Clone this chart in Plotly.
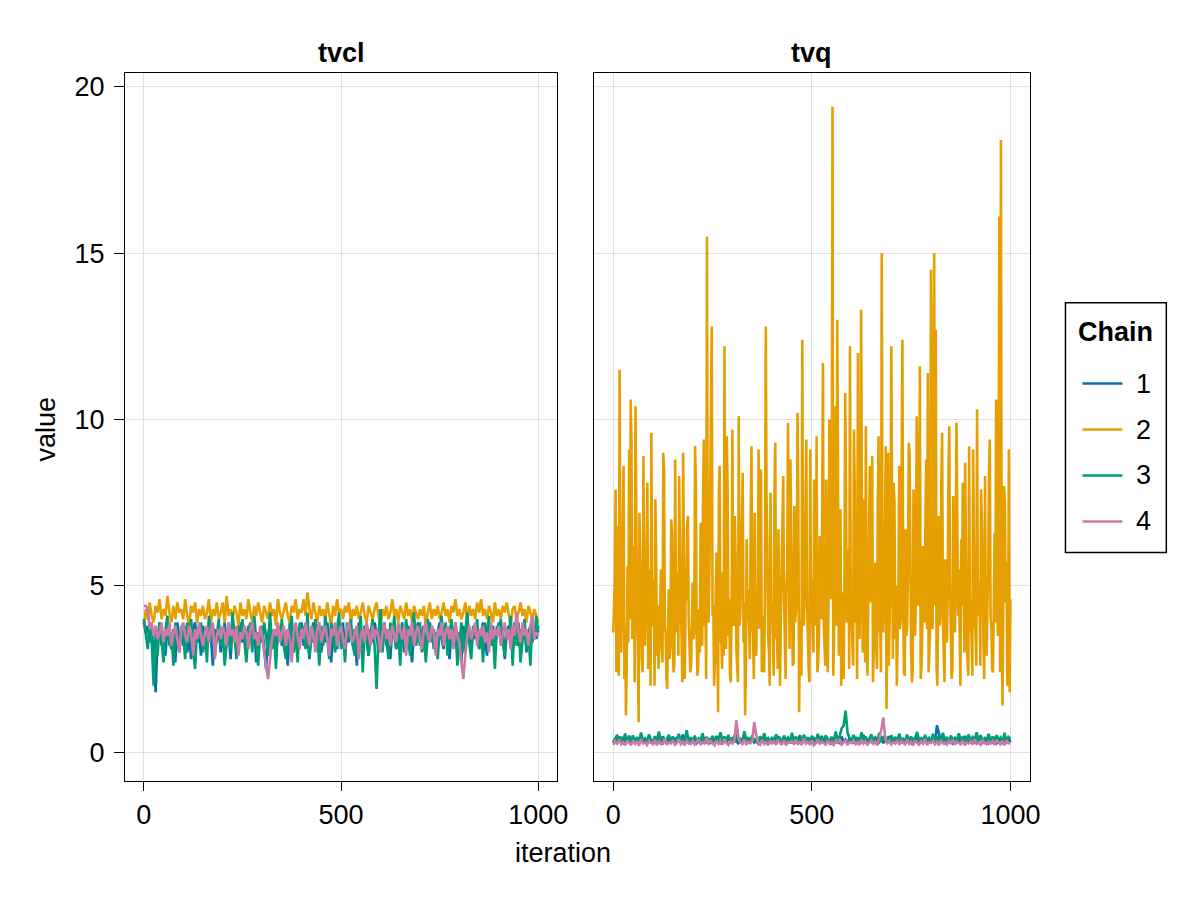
import plotly.graph_objects as go

# ---------------- data ----------------
iter_step5 = list(range(0, 1001, 5))
iter_step2 = list(range(0, 1001, 2))

tvcl_chain1 = [3.9,3.6,3.8,3.3,3.7,3.0,1.8,3.4,3.9,3.2,
 3.6,2.9,3.8,3.5,3.1,3.7,2.7,3.9,3.4,3.6,
 3.2,3.8,3.0,3.5,2.8,3.7,3.9,3.3,3.6,2.9,
 3.8,3.4,3.1,3.9,3.5,2.6,3.7,3.3,3.8,3.0,
 3.5,3.9,3.2,3.6,2.8,3.8,3.4,3.7,3.1,3.9,
 3.3,3.6,2.9,3.8,3.5,3.2,3.9,2.7,3.6,3.4,
 3.8,3.1,2.5,3.5,3.9,3.3,3.7,2.9,3.6,3.8,
 3.2,3.7,3.4,2.6,3.9,3.5,3.0,3.8,3.3,3.6,
 3.9,3.2,3.7,3.4,2.8,3.6,3.9,3.1,3.5,3.8,
 3.0,3.6,3.3,3.9,3.5,2.7,3.8,3.4,3.1,3.7,
 3.5,3.9,2.9,3.6,3.3,3.8,3.2,3.7,2.6,3.9,
 3.4,3.1,3.8,3.5,2.9,3.7,3.3,3.9,3.6,3.0,
 3.7,3.4,3.9,3.2,3.6,2.8,3.8,3.5,3.1,3.7,
 3.3,3.9,3.0,3.6,3.8,3.4,2.7,3.7,3.5,3.9,
 3.2,3.6,3.8,2.9,3.5,3.9,3.3,3.7,3.0,3.6,
 3.9,3.4,3.1,3.8,3.6,2.8,3.7,3.5,3.9,3.2,
 3.6,2.7,3.8,3.3,3.9,3.5,3.0,3.7,3.4,3.8,
 3.1,3.6,3.9,3.4,2.9,3.7,3.5,3.8,3.2,3.6,
 3.9,3.3,3.7,2.8,3.6,3.8,3.4,3.1,3.9,3.5,
 3.2,3.7,3.5,3.9,3.0,3.6,3.8,3.3,3.7,3.4,
 3.8]

tvcl_chain2 = [3.8,4.3,4.0,4.5,4.1,3.9,4.4,4.2,4.6,4.0,
 4.3,4.1,4.7,4.2,3.9,4.4,4.0,4.5,4.2,4.3,
 4.0,4.6,4.1,3.8,4.4,4.2,4.5,3.9,4.3,4.1,
 4.4,4.0,4.2,4.6,3.9,4.3,4.1,4.5,4.0,4.2,
 4.5,3.9,4.7,4.1,4.3,4.0,4.4,4.2,3.8,4.5,
 4.1,4.3,4.0,4.6,4.2,3.9,4.4,4.1,4.5,4.2,
 3.9,4.4,4.2,4.0,4.5,4.1,4.3,3.8,4.6,4.2,
 4.0,4.3,4.5,4.1,3.9,4.4,4.2,4.6,4.0,4.3,
 4.2,4.6,4.1,4.8,4.3,4.0,4.5,4.2,3.9,4.4,
 4.1,4.3,4.0,4.5,4.2,3.8,4.4,4.1,4.6,4.2,
 4.3,4.0,4.4,4.2,4.5,3.9,4.3,4.1,4.4,4.0,
 4.2,4.5,4.1,3.9,4.4,4.2,4.0,4.3,4.5,4.1,
 3.8,4.3,4.1,4.4,4.0,4.2,4.6,4.1,4.3,3.9,
 4.4,4.2,4.0,4.5,4.1,4.3,3.9,4.4,4.2,4.0,
 4.3,4.1,4.4,3.8,4.2,4.5,4.0,4.3,4.1,4.4,
 4.0,4.2,4.5,4.1,4.3,3.9,4.4,4.2,4.6,4.1,
 4.3,4.0,4.2,4.5,3.9,4.4,4.1,4.3,4.0,4.5,
 4.2,4.6,4.1,4.3,4.0,4.4,4.2,3.9,4.5,4.1,
 4.3,4.0,4.4,4.2,4.5,4.1,3.8,4.3,4.4,4.0,
 4.2,4.5,4.1,4.3,3.9,4.4,4.2,4.0,4.3,4.1,
 3.9]

tvcl_chain3 = [4.0,3.5,3.1,3.8,3.3,2.0,3.6,2.9,3.9,3.4,
 2.7,3.7,4.1,3.2,3.6,2.6,3.9,3.4,3.0,3.8,
 3.5,2.8,3.9,3.3,4.0,3.1,2.5,3.7,3.4,3.9,
 3.0,3.6,2.7,4.1,3.3,3.8,2.9,3.5,4.0,3.2,
 3.7,2.6,3.4,3.9,3.1,4.2,3.5,2.8,3.8,3.3,
 4.0,3.2,2.7,3.6,3.9,3.0,4.1,3.4,2.6,3.7,
 3.3,3.9,3.5,2.9,4.2,3.1,3.6,2.5,3.8,3.4,
 4.0,3.2,2.8,3.7,3.5,4.1,3.0,3.6,2.7,3.9,
 3.4,3.8,3.1,4.2,2.9,3.6,3.3,4.0,3.5,2.6,
 3.8,3.2,4.1,3.5,2.8,3.9,3.4,3.0,3.7,4.2,
 3.1,3.6,2.7,3.9,3.4,4.0,3.2,2.9,3.7,3.5,
 4.1,2.4,3.8,3.3,2.9,3.6,4.0,3.2,1.9,3.5,
 4.3,3.0,3.7,3.4,2.8,3.9,3.5,4.1,3.1,3.6,
 2.6,3.8,3.3,4.0,3.5,2.9,3.7,4.2,3.2,3.6,
 3.9,3.0,3.5,2.7,4.0,3.4,3.8,3.1,3.6,2.8,
 3.7,4.1,3.3,3.9,2.9,3.5,4.0,3.2,3.7,2.6,
 3.4,3.9,3.0,3.6,4.2,3.3,2.8,3.8,3.5,4.0,
 3.1,3.7,2.7,3.9,3.4,4.1,3.2,3.6,2.5,3.8,
 3.5,4.0,3.3,2.9,3.7,3.4,4.1,2.6,3.8,3.2,
 3.9,2.7,3.5,4.0,3.1,3.6,2.6,3.9,3.4,4.1,
 3.6]

tvcl_chain4 = [4.4,4.4,4.3,3.7,3.9,3.5,3.8,3.4,3.6,3.9,
 3.3,3.7,3.5,3.9,3.2,3.6,3.8,3.4,3.0,3.7,
 3.9,3.5,3.3,3.8,3.6,2.9,3.7,3.4,3.9,3.5,
 3.2,3.6,3.8,3.3,3.7,3.9,2.8,3.5,3.7,3.4,
 3.8,3.6,3.2,3.9,3.5,3.7,3.3,3.8,2.9,3.6,
 3.4,3.8,3.6,3.1,3.7,3.9,3.4,3.6,3.2,3.8,
 3.5,3.0,2.6,2.2,2.8,3.4,3.7,3.5,3.9,3.3,
 3.6,3.8,3.2,3.7,3.4,2.7,3.6,3.9,3.5,3.1,
 3.7,3.4,3.9,3.6,3.2,3.8,3.5,3.0,3.7,3.9,
 3.3,3.6,3.8,3.4,2.9,3.7,3.5,3.9,3.2,3.6,
 3.8,3.4,3.1,3.7,3.9,3.5,3.3,3.6,3.8,2.8,
 3.5,3.7,3.3,3.9,3.6,3.2,3.8,3.4,3.7,3.5,
 3.0,3.6,3.9,3.4,3.7,3.2,3.8,3.5,3.3,3.9,
 3.6,3.4,3.8,2.9,3.7,3.5,3.9,3.2,3.6,3.8,
 3.4,3.1,3.7,3.9,3.5,3.3,3.8,3.6,2.9,3.7,
 3.5,3.9,3.2,3.6,3.8,3.4,3.7,3.1,3.9,3.5,
 3.3,2.7,2.2,2.9,3.5,3.8,3.4,3.6,3.9,3.2,
 3.7,3.5,3.8,3.3,3.6,3.0,3.9,3.4,3.7,3.5,
 3.8,3.2,3.6,3.9,3.4,3.7,3.1,3.8,3.5,4.2,
 3.6,3.3,3.9,3.5,3.7,3.2,3.8,4.1,3.4,3.6,
 3.5]

tvq_chain1 = [0.30,0.42,0.28,0.47,0.33,0.26,0.44,0.31,0.50,0.29,
 0.37,0.27,0.45,0.32,0.52,0.28,0.39,0.30,0.46,0.27,
 0.34,0.29,0.41,0.31,0.26,0.48,0.33,0.28,0.43,0.30,
 0.38,0.27,0.45,0.32,0.29,0.53,0.31,0.35,0.28,0.41,
 0.30,0.46,0.27,0.33,0.39,0.28,0.44,0.31,0.26,0.42,
 0.29,0.35,0.49,0.30,0.27,0.41,0.33,0.29,0.45,0.31,
 0.28,0.50,0.32,0.27,0.38,0.30,0.43,0.28,0.35,0.31,
 0.47,0.29,0.33,0.26,0.40,0.32,0.28,0.44,0.30,0.36,
 0.27,0.42,0.31,0.48,0.29,0.34,0.46,0.28,0.32,0.39,
 0.27,0.43,0.30,0.35,0.51,0.29,0.33,0.41,0.28,0.37,
 0.30,0.45,0.28,0.36,0.27,0.49,0.32,0.29,0.40,0.31,
 0.26,0.44,0.30,0.34,0.28,0.47,0.31,0.38,0.27,0.42,
 0.33,0.29,0.46,0.30,0.36,0.28,0.52,0.31,0.27,0.40,
 0.32,0.45,0.28,0.35,0.30,0.43,0.27,0.38,0.31,0.48,
 0.29,0.36,0.27,0.44,0.32,0.30,0.41,0.28,0.46,0.33,
 0.27,0.39,0.31,0.50,0.29,0.35,0.28,0.43,0.30,0.37,
 0.32,0.44,0.29,0.81,0.55,0.31,0.40,0.28,0.36,0.30,
 0.45,0.27,0.33,0.42,0.29,0.38,0.31,0.49,0.28,0.35,
 0.30,0.44,0.27,0.37,0.32,0.51,0.29,0.34,0.41,0.28,
 0.36,0.30,0.46,0.27,0.33,0.40,0.29,0.38,0.31,0.43,
 0.30]

tvq_chain2 = [3.6,4.3,5.2,7.9,2.4,4.8,6.8,2.3,11.5,4.4,
 3.0,5.1,7.4,8.6,2.2,3.8,1.1,2.6,5.6,3.3,
 9.1,4.0,10.6,9.3,3.4,4.2,6.2,2.1,10.4,4.9,
 4.1,3.2,0.9,7.2,5.3,3.6,2.8,2.4,8.9,3.7,
 3.2,4.7,7.7,8.1,2.5,5.5,4.6,2.0,9.6,4.1,
 3.8,5.2,2.0,7.6,6.1,2.9,4.4,2.5,3.1,4.0,
 5.5,3.5,2.7,9.0,8.4,3.7,3.6,2.2,1.9,3.8,
 4.9,2.8,3.3,7.0,6.6,3.2,2.4,2.7,8.8,3.6,
 4.0,5.4,2.9,8.3,5.8,4.2,3.5,2.1,9.0,3.3,
 2.2,4.5,4.7,6.8,7.1,4.0,3.0,2.4,2.6,3.9,
 5.1,3.4,3.7,9.2,8.1,3.6,2.3,2.6,4.3,3.0,
 6.9,4.4,3.2,7.4,9.4,3.8,4.8,2.2,15.5,4.5,
 3.9,5.3,7.5,8.7,12.8,4.1,4.4,2.0,2.7,4.8,
 6.0,3.7,1.2,7.8,8.6,3.3,3.5,2.5,5.4,2.9,
 12.2,4.2,3.1,9.5,7.9,3.5,4.6,2.3,2.1,4.4,
 9.7,3.9,3.8,7.1,5.9,3.1,2.6,2.1,10.1,3.8,
 4.2,5.6,8.0,8.4,3.3,4.5,1.1,2.6,6.4,4.0,
 4.9,3.4,2.8,6.9,9.2,3.7,3.6,2.2,7.2,3.0,
 2.9,4.6,5.0,9.1,3.7,5.4,8.5,2.4,4.1,3.1,
 2.4,4.9,12.8,7.7,6.3,3.5,3.0,2.0,7.8,4.0,
 4.5,3.6,2.3,8.0,9.3,3.4,3.9,2.5,6.7,3.7,
 2.0,4.1,5.6,7.3,8.3,4.6,3.4,2.2,4.8,5.5,
 9.9,3.8,3.1,8.8,6.0,3.5,2.6,2.7,7.4,3.9,
 4.2,5.3,10.2,7.5,1.2,4.0,3.5,2.3,12.4,4.3,
 3.8,5.0,8.7,9.4,4.4,3.1,2.5,2.1,9.1,3.9,
 5.2,3.6,3.0,8.2,7.0,3.8,9.5,2.4,2.7,3.5,
 6.5,4.2,4.0,7.0,11.7,3.9,3.3,2.6,8.2,3.2,
 2.4,4.5,10.0,9.6,4.6,5.9,19.4,2.3,3.6,5.0,
 10.4,3.8,13.0,8.5,2.9,3.5,7.3,2.0,4.8,3.3,
 2.2,4.9,10.8,7.8,3.9,5.4,6.1,2.5,12.2,4.5,
 4.3,3.2,2.6,9.7,8.0,3.9,5.1,2.2,12.0,4.7,
 3.4,5.0,13.3,7.2,3.0,3.6,7.6,2.7,9.8,3.8,
 2.3,4.4,6.8,8.6,4.5,5.3,8.9,2.1,3.1,4.9,
 5.7,3.3,2.5,7.4,9.5,3.6,4.0,2.4,15.0,4.3,
 3.6,5.2,6.3,9.2,1.3,4.0,9.0,2.6,4.7,5.6,
 12.2,3.9,2.8,8.1,7.5,3.4,5.0,2.0,3.2,4.8,
 8.6,3.7,4.1,7.6,12.4,4.3,2.4,2.3,6.7,3.5,
 3.8,5.5,9.3,9.0,4.9,3.0,2.1,2.5,7.9,3.9,
 3.5,4.7,10.1,8.3,4.4,5.3,11.6,2.2,2.6,3.6,
 6.2,4.2,3.9,7.0,8.8,3.7,11.4,2.4,2.9,3.8,
 14.5,4.1,3.7,9.3,15.0,4.4,12.7,2.6,2.0,4.6,
 7.1,3.8,4.3,8.0,9.6,3.9,2.7,2.1,5.8,3.4,
 3.3,4.8,8.4,9.8,4.9,3.2,2.2,2.5,7.7,4.0,
 3.6,5.2,9.9,7.3,4.1,5.5,2.5,2.0,6.4,4.4,
 8.1,3.9,3.0,8.7,5.4,3.3,2.8,2.3,9.2,3.6,
 4.6,3.4,2.3,9.1,7.0,3.8,3.7,2.6,10.3,4.1,
 4.2,5.1,2.6,7.9,6.9,4.3,3.4,2.2,8.3,3.5,
 2.9,4.4,5.3,8.4,9.4,4.0,3.8,2.5,2.4,4.2,
 6.6,3.9,10.6,9.0,3.5,5.8,16.1,2.4,18.4,3.7,
 1.4,4.8,8.0,7.5,4.5,5.7,2.0,2.7,9.1,1.8,
 4.6]

tvq_chain3 = [0.28,0.40,0.52,0.31,0.46,0.34,0.56,0.29,0.42,0.36,
 0.50,0.31,0.45,0.28,0.59,0.34,0.41,0.30,0.53,0.37,
 0.29,0.48,0.33,0.62,0.31,0.44,0.28,0.39,0.52,0.32,
 0.47,0.35,0.30,0.55,0.29,0.42,0.37,0.66,0.31,0.45,
 0.33,0.50,0.28,0.41,0.36,0.57,0.30,0.46,0.34,0.29,
 0.49,0.32,0.43,0.38,0.60,0.31,0.47,0.35,0.52,0.30,
 0.44,0.29,0.56,0.33,0.40,0.31,0.63,0.36,0.45,0.30,
 0.51,0.34,0.39,0.29,0.48,0.32,0.57,0.35,0.42,0.30,
 0.46,0.31,0.54,0.33,0.41,0.29,0.50,0.36,0.44,0.31,
 0.58,0.33,0.47,0.30,0.40,0.35,0.53,0.29,0.45,0.32,
 0.49,0.36,0.31,0.55,0.34,0.43,0.29,0.51,0.37,0.33,
 0.46,0.30,0.62,0.38,0.48,0.71,0.80,1.25,0.58,0.42,
 0.36,0.52,0.31,0.45,0.29,0.60,0.34,0.47,0.32,0.41,
 0.54,0.30,0.44,0.37,0.58,0.31,0.49,0.35,0.42,0.29,
 0.51,0.33,0.46,0.30,0.56,0.36,0.40,0.31,0.53,0.34,
 0.47,0.29,0.42,0.61,0.33,0.45,0.30,0.52,0.37,0.43,
 0.31,0.55,0.35,0.48,0.29,0.41,0.58,0.33,0.46,0.30,
 0.50,0.36,0.43,0.31,0.57,0.34,0.47,0.29,0.40,0.53,
 0.32,0.45,0.38,0.60,0.30,0.49,0.35,0.42,0.31,0.55,
 0.34,0.47,0.30,0.51,0.37,0.44,0.29,0.58,0.33,0.46,
 0.40]

tvq_chain4 = [0.22,0.33,0.26,0.38,0.24,0.30,0.21,0.35,0.27,0.23,
 0.36,0.25,0.31,0.20,0.39,0.26,0.29,0.22,0.34,0.28,
 0.24,0.37,0.21,0.32,0.27,0.25,0.41,0.23,0.30,0.26,
 0.35,0.22,0.28,0.40,0.24,0.31,0.21,0.36,0.27,0.25,
 0.33,0.23,0.29,0.38,0.22,0.30,0.26,0.42,0.24,0.34,
 0.27,0.21,0.35,0.25,0.31,0.23,0.39,0.28,0.22,0.33,
 0.26,0.36,0.96,0.45,0.29,0.24,0.38,0.22,0.31,0.27,
 0.34,0.90,0.52,0.28,0.23,0.37,0.25,0.30,0.21,0.35,
 0.26,0.32,0.22,0.39,0.27,0.24,0.36,0.21,0.30,0.28,
 0.33,0.23,0.37,0.25,0.29,0.22,0.41,0.26,0.31,0.24,
 0.35,0.21,0.28,0.38,0.24,0.32,0.27,0.23,0.36,0.25,
 0.30,0.22,0.34,0.26,0.40,0.23,0.29,0.37,0.21,0.31,
 0.27,0.35,0.24,0.30,0.22,0.38,0.26,0.33,0.23,0.29,
 0.36,0.25,0.31,0.21,0.44,0.68,1.04,0.40,0.27,0.33,
 0.23,0.30,0.26,0.37,0.22,0.34,0.28,0.24,0.39,0.25,
 0.31,0.21,0.36,0.27,0.23,0.33,0.26,0.40,0.22,0.30,
 0.28,0.35,0.24,0.31,0.21,0.37,0.26,0.29,0.23,0.34,
 0.25,0.38,0.22,0.32,0.27,0.24,0.36,0.21,0.30,0.26,
 0.33,0.23,0.39,0.25,0.29,0.22,0.35,0.27,0.24,0.31,
 0.26,0.34,0.22,0.37,0.28,0.24,0.32,0.21,0.36,0.27,
 0.28]

chain_names = ["1", "2", "3", "4"]
panel_titles = ["tvcl", "tvq"]
x_ticks = [0, 500, 1000]
y_ticks = [0, 5, 10, 15, 20]

# ---------------- style ----------------
colors = ["#0072B2", "#E69F00", "#009E73", "#CC79A7"]
FONT = "Liberation Sans, Arial, sans-serif"
FS = 27
LW = 2.6

fig = go.Figure()

tvcl = [(iter_step5, tvcl_chain1), (iter_step5, tvcl_chain2),
        (iter_step5, tvcl_chain3), (iter_step5, tvcl_chain4)]
tvq = [(iter_step5, tvq_chain1), (iter_step2, tvq_chain2),
       (iter_step5, tvq_chain3), (iter_step5, tvq_chain4)]

for i, (xs, ys) in enumerate(tvcl):
    fig.add_trace(go.Scatter(x=xs[:len(ys)], y=ys, mode="lines", name=chain_names[i],
                             showlegend=False, line=dict(color=colors[i], width=LW),
                             xaxis="x", yaxis="y"))
for i, (xs, ys) in enumerate(tvq):
    fig.add_trace(go.Scatter(x=xs[:len(ys)], y=ys, mode="lines", name=chain_names[i],
                             showlegend=False, line=dict(color=colors[i], width=LW),
                             xaxis="x2", yaxis="y2"))

W, H = 1200, 900
XS = 0.9923  # horizontal calibration of the capture


def px(x):
    return (x + 1.04) / (XS * W)


def py(y):
    return (H - y) / H


L1, R1 = px(124), px(557)
L2, R2 = px(594), px(1030)
B, T = py(781), py(72)

axis_common = dict(showgrid=True, gridcolor="rgba(0,0,0,0.12)", gridwidth=1,
                   showline=True, linecolor="black", linewidth=1, mirror=True,
                   zeroline=False, tickfont=dict(family=FONT, size=FS, color="black"))

shapes = []
annotations = [
    dict(text="<b>" + panel_titles[0] + "</b>", x=(L1 + R1) / 2, y=py(52),
         xref="paper", yref="paper", showarrow=False, xanchor="center", yanchor="middle",
         font=dict(family=FONT, size=FS, color="black")),
    dict(text="<b>" + panel_titles[1] + "</b>", x=(L2 + R2) / 2, y=py(52),
         xref="paper", yref="paper", showarrow=False, xanchor="center", yanchor="middle",
         font=dict(family=FONT, size=FS, color="black")),
    dict(text="iteration", x=px(563), y=py(853), xref="paper", yref="paper",
         showarrow=False, xanchor="center", yanchor="middle",
         font=dict(family=FONT, size=FS, color="black")),
    dict(text="value", x=px(45), y=py(428), xref="paper", yref="paper",
         showarrow=False, xanchor="center", yanchor="middle", textangle=-90,
         font=dict(family=FONT, size=FS, color="black")),
]

# legend: framed box with a line sample per chain
shapes.append(dict(type="rect", xref="paper", yref="paper",
                   x0=px(1066), x1=px(1167), y0=py(552), y1=py(302),
                   line=dict(color="black", width=1.5), fillcolor="white"))
annotations.append(dict(text="<b>Chain</b>", x=px(1116.5), y=py(331), xref="paper", yref="paper",
                        showarrow=False, xanchor="center", yanchor="middle",
                        font=dict(family=FONT, size=FS, color="black")))
for i, name in enumerate(chain_names):
    yy = 383 + 46 * i
    shapes.append(dict(type="line", xref="paper", yref="paper",
                       x0=px(1083), x1=px(1123), y0=py(yy), y1=py(yy),
                       line=dict(color=colors[i], width=2.5)))
    annotations.append(dict(text=name, x=px(1135), y=py(yy), xref="paper", yref="paper",
                            showarrow=False, xanchor="left", yanchor="middle",
                            font=dict(family=FONT, size=FS, color="black")))

fig.update_layout(
    width=W, height=H,
    margin=dict(l=0, r=0, t=0, b=0),
    paper_bgcolor="white", plot_bgcolor="white",
    font=dict(family=FONT, color="black"),
    showlegend=False,
    xaxis=dict(domain=[L1, R1], range=[-48, 1048], tickvals=x_ticks, anchor="y",
               ticks="outside", ticklen=9, tickcolor="black", **axis_common),
    yaxis=dict(domain=[B, T], range=[-0.87, 20.42], tickvals=y_ticks, anchor="x",
               ticks="outside", ticklen=10, tickcolor="black", ticklabelstandoff=4,
               **axis_common),
    xaxis2=dict(domain=[L2, R2], range=[-48, 1048], tickvals=x_ticks, anchor="y2",
                ticks="outside", ticklen=9, tickcolor="black", **axis_common),
    yaxis2=dict(domain=[B, T], range=[-0.87, 20.42], tickvals=y_ticks, anchor="x2",
                showticklabels=False, ticks="", **axis_common),
    shapes=shapes,
    annotations=annotations,
)

fig.write_html("out.html")
